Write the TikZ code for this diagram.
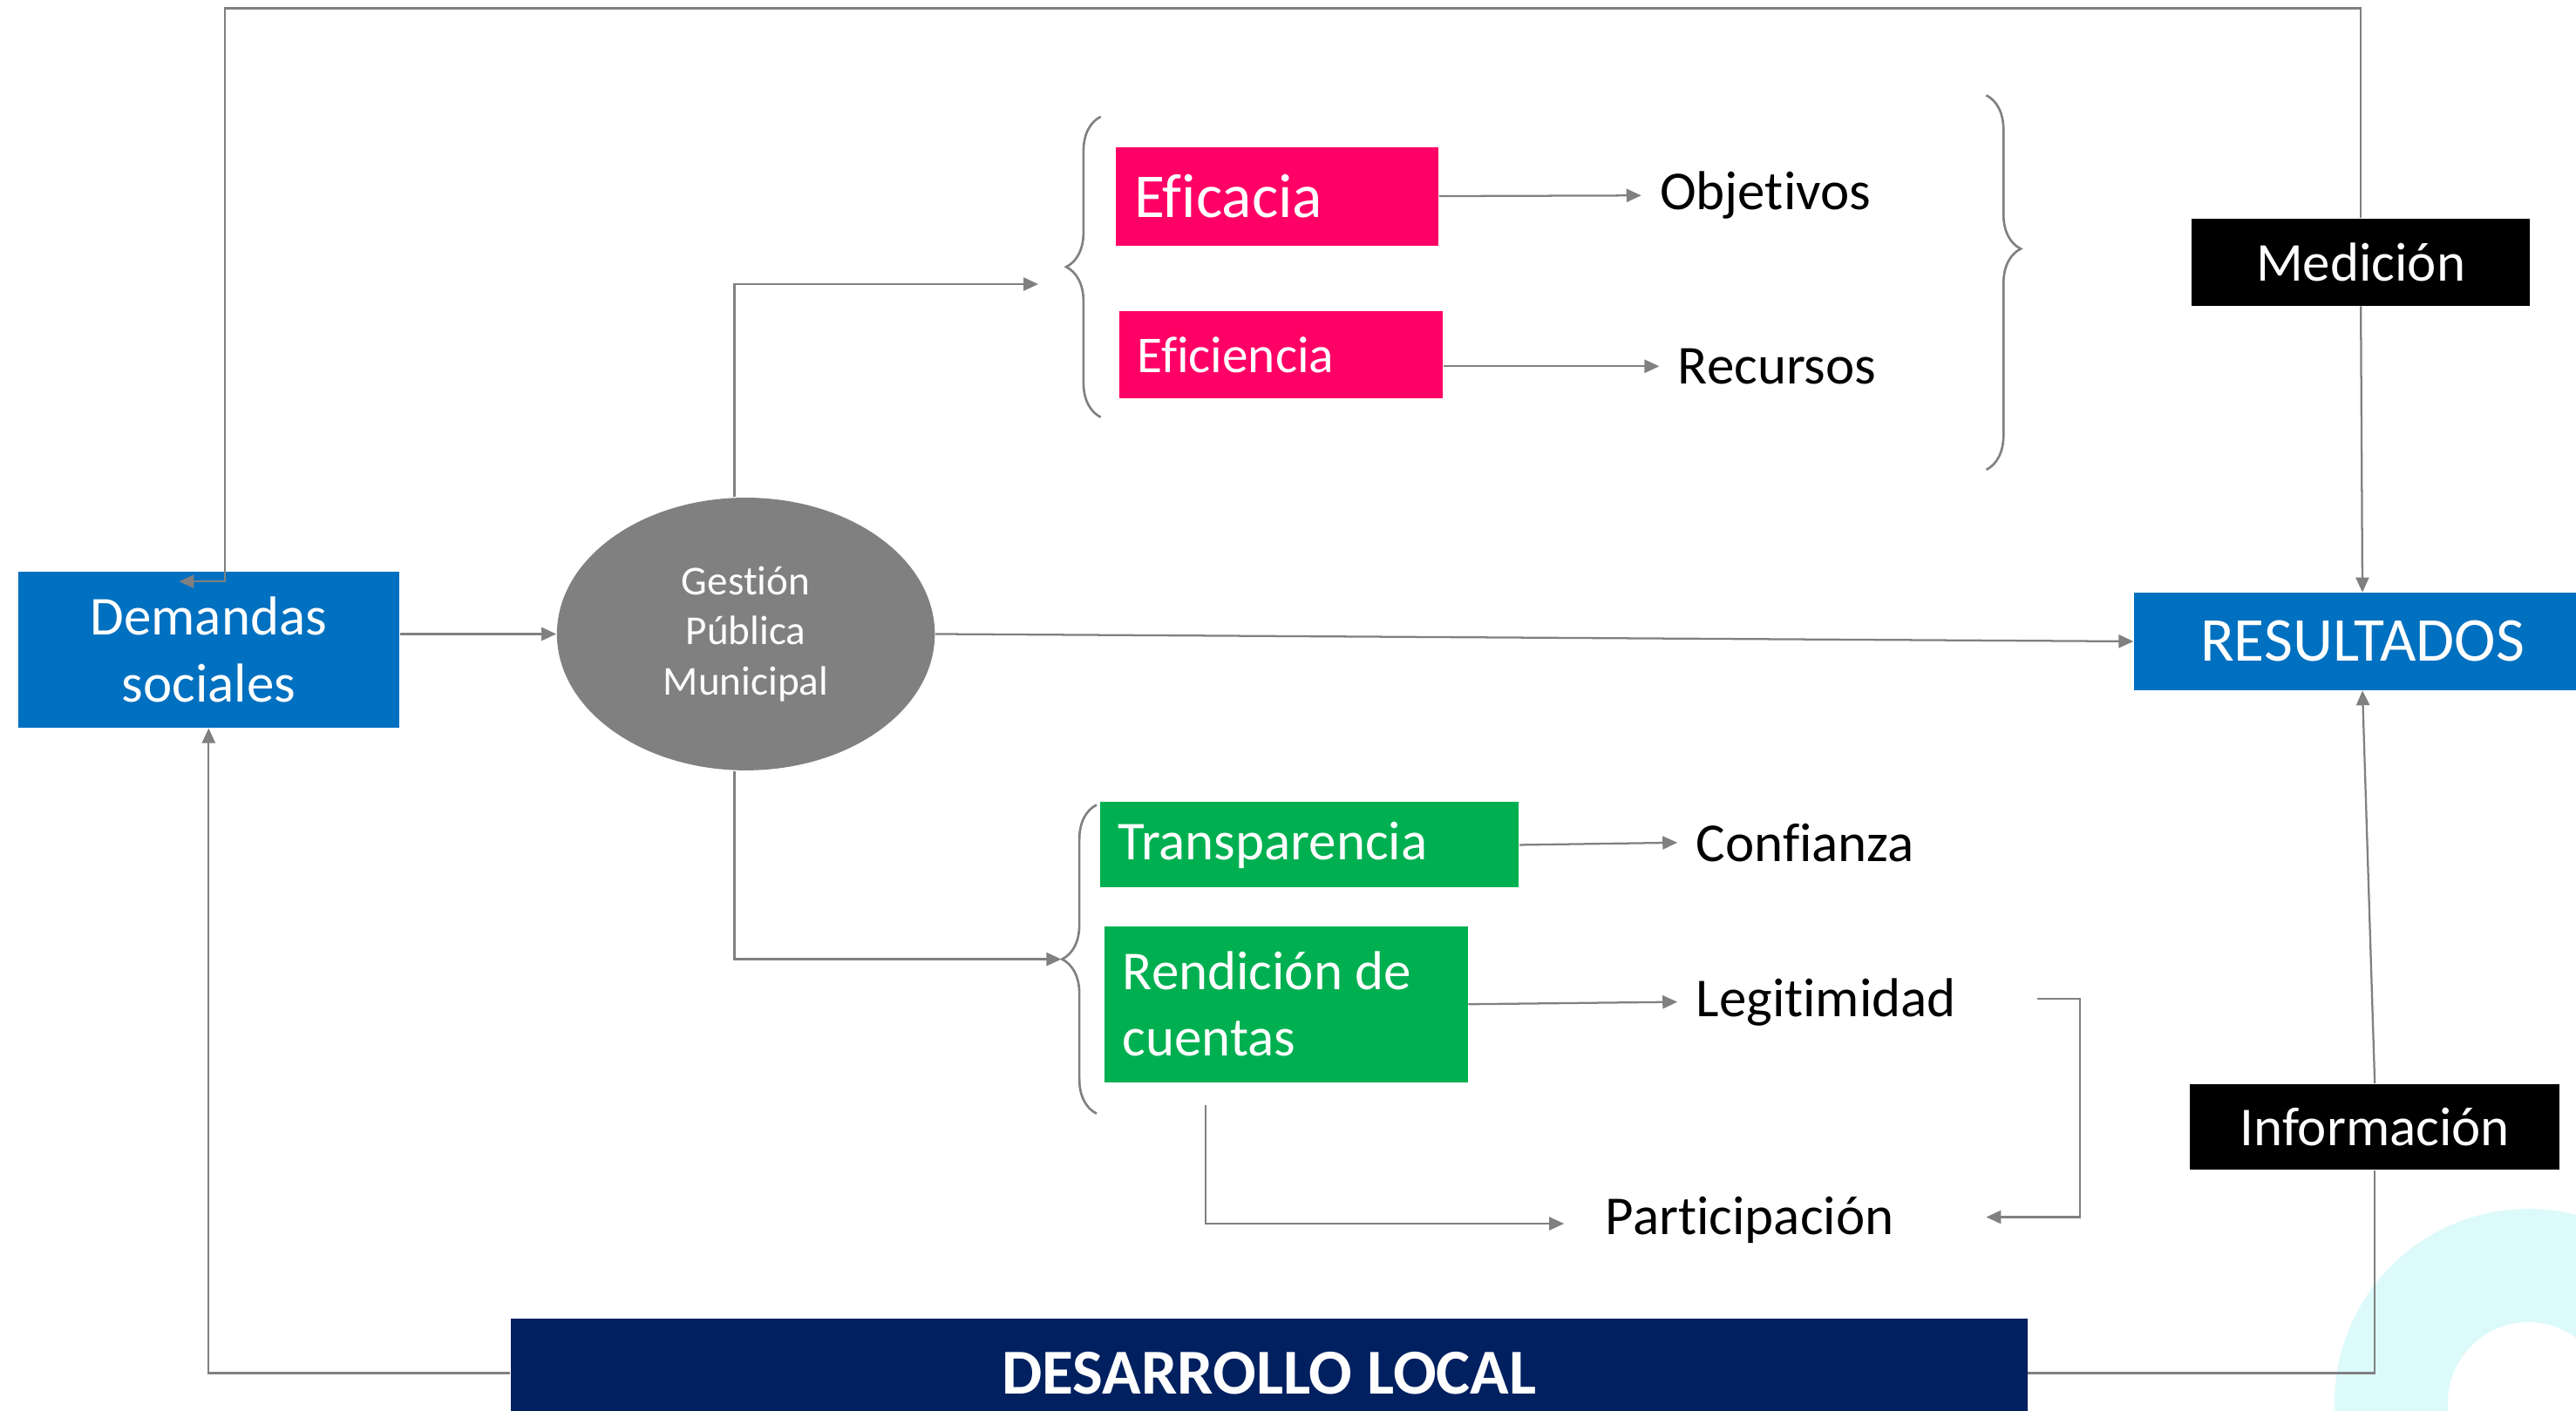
\documentclass[tikz,border=0pt]{standalone}
\usepackage{fontspec}
\setmainfont{Carlito}[Ligatures={NoCommon,NoContextual}, RawFeature={-liga;-clig;-calt}]
\usetikzlibrary{arrows.meta,shapes.geometric,decorations.pathreplacing}

\definecolor{azul}{RGB}{0,112,192}
\definecolor{rosa}{RGB}{255,0,102}
\definecolor{verde}{RGB}{0,176,80}
\definecolor{marino}{RGB}{0,32,96}
\definecolor{gris}{RGB}{128,128,128}
\definecolor{celeste}{RGB}{221,250,251}

\newcommand\txtnormal{\fontsize{16.7}{20.2}\selectfont}
\newcommand\txtgrande{\fontsize{19}{23}\selectfont}
\newcommand\txtmedio{\fontsize{15.75}{19}\selectfont}
\newcommand\txtchico{\fontsize{12.5}{15.25}\selectfont}
\newcommand\txtbold{\fontsize{19.5}{23.5}\selectfont\bfseries}

\tikzset{
  conn/.style={draw=gris, line width=0.6pt},
  arr/.style={conn, -{Triangle[length=4.5pt,width=4pt]}},
  llave/.style={draw=gris, line width=0.7pt, decorate, decoration={brace,amplitude=10.5pt,aspect=#1}},
  llave/.default=0.5,
  caja/.style={rectangle, inner sep=0pt, text=white, align=center},
  tag/.style={rectangle, anchor=north west, inner xsep=5.5pt, inner ysep=0pt, text=white, align=flush left},
  etiqueta/.style={rectangle, inner sep=5.5pt, anchor=west, font=\txtnormal},
}

\begin{document}
\begin{tikzpicture}[x=0.5pt,y=0.5pt,yscale=-1]
    \clip (0,0) rectangle (1568,859);
    \fill[celeste, even odd rule] (1539,854) circle (118) (1539,854) circle (49);

    \node[caja, fill=azul, minimum width=116pt, minimum height=47.5pt, font=\txtnormal] (demandas) at (127,395.5) {Demandas\\sociales};
    \node[ellipse, fill=gris, text=white, minimum width=115pt, minimum height=83pt, inner sep=0pt, align=center, font=\txtchico] (gestion) at (454,386) {Gestión\\Pública\\Municipal};
    \node[caja, fill=azul, minimum width=139pt, minimum height=29.5pt, font=\txtgrande] (resultados) at (1438,390.5) {RESULTADOS};
    \node[caja, fill=black, minimum width=103pt, minimum height=26.5pt, font=\txtnormal] (medicion) at (1437,159.5) {Medición};
    \node[caja, fill=black, minimum width=112.5pt, minimum height=26pt, font=\txtnormal] (informacion) at (1445.5,686) {Información};
    \node[caja, fill=marino, minimum width=461.5pt, minimum height=33pt, font=\txtbold] (desarrollo) at (772.5,836) {DESARROLLO LOCAL};

    \node[tag, fill=rosa, text width=87pt, minimum height=30pt, font=\txtgrande] (eficacia) at (679,89) {Eficacia};
    \node[tag, fill=rosa, text width=87.5pt, minimum height=26.5pt, font=\txtmedio] (eficiencia) at (681,189) {Eficiencia};
    \node[tag, fill=verde, text width=116.5pt, minimum height=26pt, font=\txtnormal] (transparencia) at (669,488) {Transparencia};
    \node[tag, fill=verde, text width=99.5pt, minimum height=47.5pt, font=\txtnormal] (rendicion) at (672,563.5) {Rendición de\\cuentas};

    \node[etiqueta] (objetivos) at (999,119) {Objetivos};
    \node[etiqueta] (recursos) at (1010,223) {Recursos};
    \node[etiqueta] (confianza) at (1021,513) {Confianza};
    \node[etiqueta] (legitimidad) at (1021,610) {Legitimidad};
    \node[etiqueta] (participacion) at (966,743) {Participación};

    \coordinate (cima) at (137,5);
    \coordinate (demin) at (109,354);
    \coordinate (llavesup) at (632,173);
    \coordinate (llaveinf) at (646,584);
    \coordinate (legout) at (1240,608);
    \coordinate (partder) at (1209,741);
    \coordinate (rendout) at (734,673);
    \coordinate (partizq) at (952,745);

    \draw[llave] (670,254) -- (670,71);
    \draw[llave=0.41] (1209,58) -- (1209,286);
    \draw[llave] (667.5,678) -- (667.5,490);

    \draw[arr] (gestion.west -| demandas.east) -- (gestion.west);
    \draw[arr] (gestion.east) -- (resultados.west);
    \draw[arr] ([xshift=-3.5pt]gestion.north) |- (llavesup);
    \draw[arr] ([xshift=-3.5pt]gestion.south) |- (llaveinf);
    \draw[arr] (eficacia.east) -- (objetivos.west);
    \draw[arr] (eficiencia.east |- recursos.west) -- (recursos.west);
    \draw[arr] (transparencia.east) -- (confianza.west);
    \draw[arr] (rendicion.east) -- (legitimidad.west);
    \draw[arr] (legout) -- ++(26,0) |- (partder);
    \draw[arr] (rendout) |- (partizq);
    \draw[arr] (medicion.north) |- (cima) |- (demin);
    \draw[arr] (medicion.south) -- (resultados.north);
    \draw[arr] (desarrollo.west) -| (demandas.south);
    \draw[conn] (desarrollo.east) -| (informacion.south);
    \draw[arr] (informacion.north) -- (resultados.south);
\end{tikzpicture}
\end{document}
